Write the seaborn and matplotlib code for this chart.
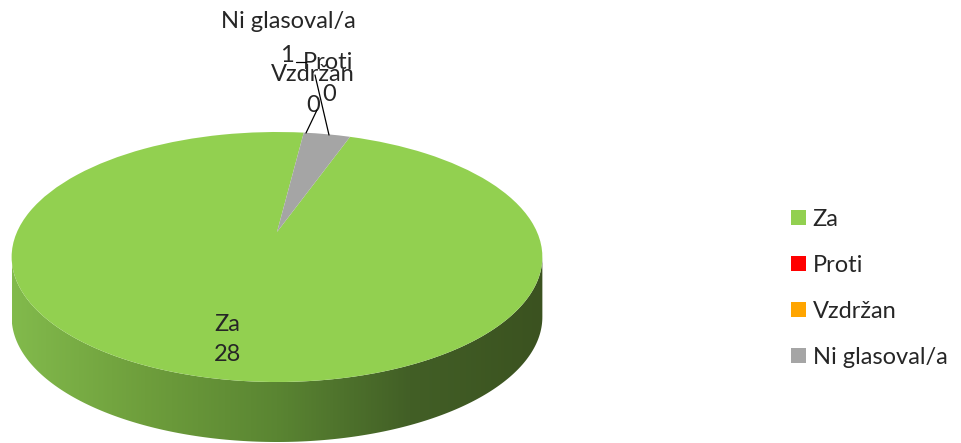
import numpy as np
import matplotlib
matplotlib.use("Agg")
import matplotlib.pyplot as plt
import seaborn as sns
from matplotlib import transforms as mtransforms
from matplotlib.patches import Polygon
from matplotlib.colors import LinearSegmentedColormap

# ── data ──
categories = ["Za", "Proti", "Vzdržan", "Ni glasoval/a"]
votes = [28, 0, 0, 1]
colors = ["#92D050", "#FF0000", "#FFA500", "#A5A5A5"]
side_colors = ["#82BA4C", "#6E9E3C", "#5A8532", "#425F26", "#3B5220"]

# ── 3d-ish geometry (pixel space) ──
CX, CY = 277, 232       # pie apex
SX, SY = 260, 120       # scale of the top face
K = 0.2                 # perspective strength
DEPTH = 60              # height of the side wall


class Persp(mtransforms.Transform):
    input_dims = output_dims = 2
    is_separable = False
    has_inverse = False

    def __init__(self, dy=0):
        super().__init__()
        self.dy = dy

    def transform_non_affine(self, xy):
        xy = np.asarray(xy, float)
        u, v = xy[:, 0], xy[:, 1]
        s = 1.0 / (1.0 + K * v)
        return np.column_stack([CX + SX * u * s, CY - SY * v * s + self.dy])


sns.set_theme(style="white")
plt.rcParams["font.family"] = ["Lato", "DejaVu Sans"]
FS = 17

fig = plt.figure(figsize=(9.61, 4.43), dpi=100)
ax = fig.add_axes([0, 0, 1, 1])

wedges, _ = ax.pie(votes, colors=colors, startangle=70.5, counterclock=False,
                   wedgeprops=dict(linewidth=0))

# side wall of the pie, front half only
top = Persp(0)
bot = Persp(DEPTH)
a = np.deg2rad(np.linspace(191.5, 348.5, 200))
circ = np.column_stack([np.cos(a), np.sin(a)])
pts = np.vstack([top.transform(circ), bot.transform(circ)[::-1]])
side = Polygon(pts, closed=True, transform=ax.transData)
cmap = LinearSegmentedColormap.from_list("side", side_colors)
im = ax.imshow(np.linspace(0, 1, 256)[None, :], cmap=cmap, aspect="auto",
               extent=(pts[:, 0].min(), pts[:, 0].max(), 443, 200), zorder=1)
im.set_clip_path(side)

ax.set_xlim(0, 961)
ax.set_ylim(443, 0)
ax.set_aspect("auto")
ax.axis("off")

for w in wedges:
    w.set_transform(top + ax.transData)
    w.set_zorder(3)

# label inside the big slice
za = wedges[0]
mid = np.deg2rad((za.theta1 + za.theta2) / 2)
lx, ly = top.transform([[0.76 * np.cos(mid), 0.76 * np.sin(mid)]])[0]
ax.text(lx + 4, ly - 12, categories[0], ha="center", va="center", fontsize=FS, zorder=5)
ax.text(lx + 4, ly + 18, str(votes[0]), ha="center", va="center", fontsize=FS, zorder=5)

# crowded labels of the small slices
ax.text(288, 21, categories[3], ha="center", va="center", fontsize=FS)
ax.text(287, 55, str(votes[3]), ha="center", va="center", fontsize=FS)
ax.text(328, 62, categories[1], ha="center", va="center", fontsize=FS)
ax.text(313, 74, categories[2], ha="center", va="center", fontsize=FS)
ax.text(329, 94, str(votes[1]), ha="center", va="center", fontsize=FS)
ax.text(313, 105, str(votes[2]), ha="center", va="center", fontsize=FS)
ax.plot([306, 317], [133, 110], color="black", lw=0.9, zorder=4)
ax.plot([329, 315], [135, 75], color="black", lw=0.9, zorder=4)
ax.plot([296, 306], [62, 62], color="black", lw=0.9, zorder=4)

ax.legend(wedges, categories, loc="center left", bbox_to_anchor=(782 / 961, 1 - 288.5 / 443),
          frameon=False, fontsize=FS, handlelength=0.6, handleheight=0.6,
          handletextpad=0.3, labelspacing=1.05, borderaxespad=0)

fig.savefig("out.png", dpi=100)
